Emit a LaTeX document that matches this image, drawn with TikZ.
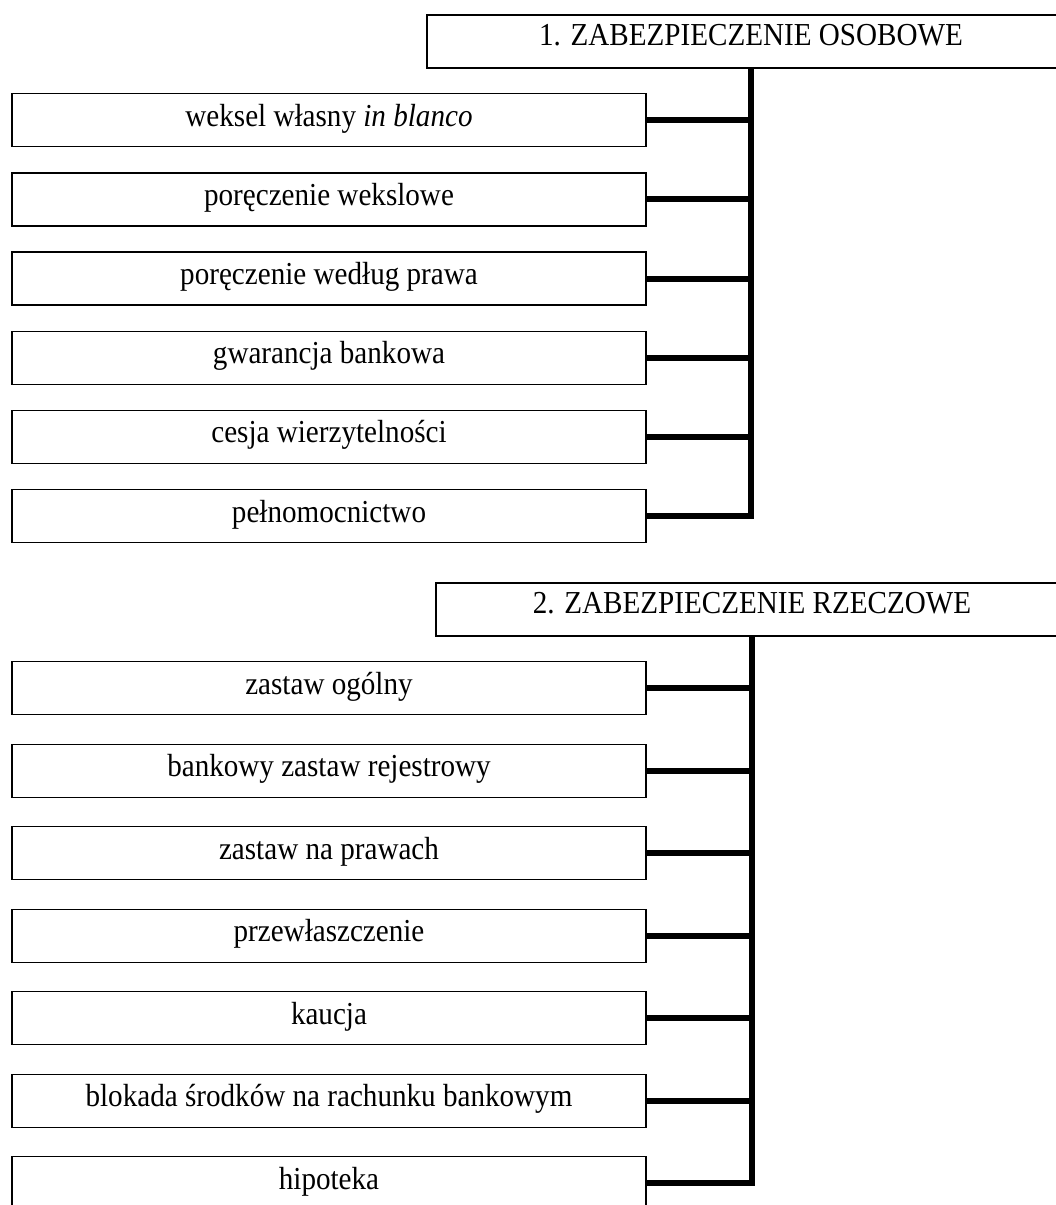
\documentclass[tikz,border=0pt]{standalone}
\usepackage{fontspec}
\usepackage{graphicx}
\setmainfont{Liberation Serif}
\newcommand\narrowtxt[1]{\scalebox{0.91}[1]{#1}}
\begin{document}
\begin{tikzpicture}[x=1pt,y=-1pt,
  itembox/.style={draw=black, line width=1.3pt, rectangle, inner sep=0pt,
    minimum width=634pt, text height=32.5pt, text depth=20.5pt,
    font=\fontsize{32}{36}\selectfont},
  headbox/.style={draw=black, line width=1.8pt, rectangle, inner sep=0pt,
    text height=30.5pt, text depth=22.5pt,
    font=\fontsize{32}{36}\selectfont},
  conn/.style={line width=6pt, line join=miter, line cap=butt}]
\useasboundingbox (0,0) rectangle (1056,1205);
\clip (0,0) rectangle (1056,1205);
% group 1
\node[headbox, minimum width=648pt] (h1) at (751,14) [anchor=north] {\narrowtxt{1. ZABEZPIECZENIE OSOBOWE}};
\node[itembox] (a1) at (329,93) [anchor=north] {\narrowtxt{weksel własny \textit{in blanco}}};
\node[itembox] (a2) at (329,172.2) [anchor=north] {\narrowtxt{poręczenie wekslowe}};
\node[itembox] (a3) at (329,251.4) [anchor=north] {\narrowtxt{poręczenie według prawa}};
\node[itembox] (a4) at (329,330.6) [anchor=north] {\narrowtxt{gwarancja bankowa}};
\node[itembox] (a5) at (329,409.8) [anchor=north] {\narrowtxt{cesja wierzytelności}};
\node[itembox] (a6) at (329,489) [anchor=north] {\narrowtxt{pełnomocnictwo}};
\coordinate (b1) at (750.5,0);
\draw[conn] (h1.south -| b1) -- (b1 |- a6.east) -- (a6.east);
\foreach \n in {a1,a2,a3,a4,a5} \draw[conn] (\n.east) -- (\n.east -| b1);
% group 2
\node[headbox, minimum width=632pt] (h2) at (752,582) [anchor=north] {\narrowtxt{2. ZABEZPIECZENIE RZECZOWE}};
\node[itembox] (c1) at (329,661) [anchor=north] {\narrowtxt{zastaw ogólny}};
\node[itembox] (c2) at (329,743.5) [anchor=north] {\narrowtxt{bankowy zastaw rejestrowy}};
\node[itembox] (c3) at (329,826) [anchor=north] {\narrowtxt{zastaw na prawach}};
\node[itembox] (c4) at (329,908.5) [anchor=north] {\narrowtxt{przewłaszczenie}};
\node[itembox] (c5) at (329,991) [anchor=north] {\narrowtxt{kaucja}};
\node[itembox] (c6) at (329,1073.5) [anchor=north] {\narrowtxt{blokada środków na rachunku bankowym}};
\node[itembox] (c7) at (329,1156) [anchor=north] {\narrowtxt{hipoteka}};
\coordinate (b2) at (752,0);
\draw[conn] (h2.south -| b2) -- (b2 |- c7.east) -- (c7.east);
\foreach \n in {c1,c2,c3,c4,c5,c6} \draw[conn] (\n.east) -- (\n.east -| b2);
\end{tikzpicture}
\end{document}
